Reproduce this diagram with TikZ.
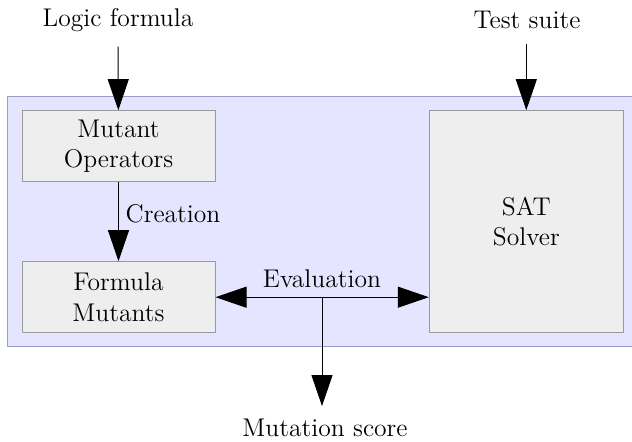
\documentclass[tikz,border=0pt]{standalone}
\usepackage{fontspec}
\usetikzlibrary{arrows.meta}
\begin{document}
\begin{tikzpicture}[x=0.5pt, y=-0.5pt, font=\fontsize{12.8}{15.4}\selectfont, line join=round,
	>={Triangle[length=15.5pt,width=10.5pt]},
	box/.style={draw=gray!80, fill=gray!13, line width=0.5pt, align=center, inner sep=0pt},
	flow/.style={->, line width=0.5pt, draw=black}]
	\useasboundingbox (0,0) rectangle (632,442);
	\clip (0,0) rectangle (632,442); % page edge
	\draw[draw=gray!70!blue!60, fill=blue!10, line width=0.5pt] (7,96.5) rectangle (640,347);
	\node[box, minimum width=96.5pt, minimum height=35.5pt] (ops) at (118.5,146.2) {Mutant\\Operators};
	\node[box, minimum width=96.5pt, minimum height=35.5pt] (mut) at (118.5,297.2) {Formula\\Mutants};
	\node[box, minimum width=97pt, minimum height=111pt] (sat) at (526.3,221.7) {SAT\\Solver};
	\node (logic) at (118,20) {Logic formula};
	\node (test) at (527,20) {Test suite};
	\node (score) at (325,428) {Mutation score};
	\coordinate (ev) at (322,296.7);
	\draw[flow, shorten <=4pt] (logic) -- (ops);
	\draw[flow, shorten <=4pt] (test.south -| sat.north) -- (sat.north);
	\draw[flow] (ops) -- node[right, pos=0.4] {Creation} (mut);
	\draw[flow, <->] (mut.east) -- (mut.east -| sat.west);
	\node[above=1pt] (eval) at (ev) {Evaluation};
	\draw[flow, shorten >=3pt] (ev) -- (ev |- score.north);
\end{tikzpicture}
\end{document}
